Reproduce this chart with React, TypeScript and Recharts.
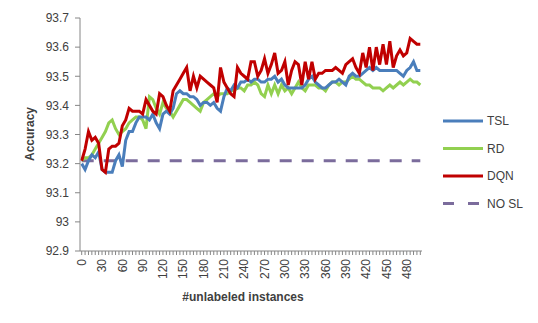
import * as React from 'react';
import { LineChart, Line, XAxis, YAxis } from 'recharts';

// #unlabeled instances, step 5
const instances: number[] = Array.from({ length: 101 }, (_, i) => i * 5);

const tslValues: number[] = [
  93.2, 93.18, 93.21, 93.23, 93.22, 93.24, 93.18, 93.17, 93.17, 93.17,
  93.21, 93.23, 93.19, 93.28, 93.31, 93.31, 93.34, 93.36, 93.36, 93.36,
  93.35, 93.37, 93.34, 93.32, 93.37, 93.38, 93.37, 93.39, 93.44, 93.45,
  93.44, 93.44, 93.43, 93.43, 93.42, 93.4, 93.41, 93.41, 93.4, 93.41,
  93.39, 93.38, 93.43, 93.46, 93.45, 93.47, 93.46, 93.48, 93.48, 93.49,
  93.48, 93.49, 93.49, 93.48, 93.48, 93.49, 93.49, 93.5, 93.48, 93.49,
  93.47, 93.46, 93.46, 93.46, 93.46, 93.46, 93.47, 93.49, 93.5, 93.48,
  93.47, 93.46, 93.46, 93.47, 93.48, 93.48, 93.49, 93.48, 93.47, 93.5,
  93.51, 93.5, 93.5, 93.51, 93.52, 93.53, 93.52, 93.53, 93.52, 93.52,
  93.52, 93.52, 93.52, 93.52, 93.51, 93.5, 93.52, 93.53, 93.55, 93.52,
  93.52,
];

const rdValues: number[] = [
  93.21, 93.22, 93.22, 93.23, 93.25, 93.27, 93.29, 93.31, 93.34, 93.35,
  93.32, 93.3, 93.31, 93.32, 93.34, 93.35, 93.36, 93.36, 93.35, 93.32,
  93.43, 93.42, 93.39, 93.37, 93.41, 93.39, 93.38, 93.36, 93.38, 93.4,
  93.42, 93.42, 93.41, 93.4, 93.39, 93.38, 93.41, 93.42, 93.43, 93.44,
  93.43, 93.44, 93.44, 93.44, 93.45, 93.45, 93.46, 93.46, 93.45, 93.47,
  93.47, 93.48, 93.47, 93.44, 93.43, 93.47, 93.44, 93.47, 93.44, 93.47,
  93.45, 93.46, 93.44, 93.46, 93.48, 93.46, 93.45, 93.47, 93.47, 93.47,
  93.46, 93.46, 93.45, 93.47, 93.48, 93.48, 93.47, 93.48, 93.48, 93.49,
  93.5, 93.49, 93.49, 93.48, 93.47, 93.47, 93.46, 93.46, 93.46, 93.45,
  93.46, 93.47, 93.46, 93.47, 93.48, 93.47, 93.48, 93.49, 93.48, 93.48,
  93.47,
];

const dqnValues: number[] = [
  93.21, 93.25, 93.31, 93.28, 93.29, 93.27, 93.18, 93.17, 93.25, 93.26,
  93.26, 93.27, 93.33, 93.35, 93.39, 93.38, 93.38, 93.38, 93.37, 93.42,
  93.4, 93.38, 93.37, 93.44, 93.43, 93.4, 93.38, 93.45, 93.47, 93.49,
  93.51, 93.53, 93.45, 93.5, 93.46, 93.5, 93.49, 93.48, 93.47, 93.46,
  93.41, 93.53, 93.48, 93.46, 93.44, 93.43, 93.53, 93.51, 93.5, 93.49,
  93.55, 93.55, 93.5, 93.52, 93.56, 93.51, 93.54, 93.58, 93.51, 93.52,
  93.55, 93.47, 93.52, 93.55, 93.54, 93.47, 93.55, 93.49, 93.55, 93.49,
  93.51, 93.51, 93.52, 93.52, 93.52, 93.53, 93.52, 93.51, 93.54, 93.55,
  93.56, 93.53, 93.51, 93.58, 93.53, 93.6, 93.52, 93.6, 93.54, 93.61,
  93.54, 93.62, 93.53, 93.57, 93.59, 93.57, 93.58, 93.63, 93.62, 93.61,
  93.61,
];

const noSlValue = 93.21;

const yTicks: number[] = [92.9, 93, 93.1, 93.2, 93.3, 93.4, 93.5, 93.6, 93.7];

const series = [
  { key: 'tsl', name: 'TSL', color: '#4a7ebb', dash: undefined as string | undefined },
  { key: 'rd', name: 'RD', color: '#92d050', dash: undefined as string | undefined },
  { key: 'dqn', name: 'DQN', color: '#c00000', dash: undefined as string | undefined },
  { key: 'nosl', name: 'NO SL', color: '#7b6c9c', dash: '12 10' },
];

const data = instances.map((x, i) => ({
  x,
  tsl: tslValues[i],
  rd: rdValues[i],
  dqn: dqnValues[i],
  nosl: noSlValue,
}));

const axisColor = '#868686';
const textColor = '#404040';
const fontFamily = '"Liberation Sans", Arial, sans-serif';

function XTick(props: any) {
  const { x, y, payload, index } = props;
  return (
    <g>
      <line x1={x} y1={y} x2={x} y2={y + 4} stroke={axisColor} />
      {index % 6 === 0 && (
        <text
          transform={`translate(${x},${y + 8}) rotate(-90)`}
          textAnchor="end"
          dy="0.35em"
          fill={textColor}
          fontSize={12}
          fontFamily={fontFamily}
        >
          {payload.value}
        </text>
      )}
    </g>
  );
}

export default function App() {
  return (
    <div style={{ position: 'absolute', left: 0, top: 0, width: 538, height: 323, background: '#fff' }}>
      <LineChart
        width={538}
        height={323}
        data={data}
        margin={{ top: 18, right: 116, left: 0, bottom: 30 }}
      >
        <XAxis
          dataKey="x"
          type="category"
          interval={0}
          height={42}
          tickLine={false}
          tickSize={0}
          tickMargin={0}
          padding={{ left: 1.7, right: 1.7 }}
          axisLine={{ stroke: axisColor }}
          tick={<XTick />}
        />
        <YAxis
          domain={[92.9, 93.7]}
          ticks={yTicks}
          interval={0}
          width={80}
          tickSize={5}
          tickMargin={6}
          tickFormatter={(v: number) => String(Math.round(v * 10) / 10)}
          axisLine={{ stroke: axisColor }}
          tickLine={{ stroke: axisColor }}
          tick={{ fill: textColor, fontSize: 12, fontFamily }}
          allowDataOverflow
        />
        <Line dataKey="nosl" name="NO SL" stroke="#7b6c9c" strokeWidth={3} strokeDasharray="12 10" dot={false} isAnimationActive={false} />
        <Line dataKey="rd" name="RD" stroke="#92d050" strokeWidth={3} dot={false} isAnimationActive={false} />
        <Line dataKey="tsl" name="TSL" stroke="#4a7ebb" strokeWidth={3} dot={false} isAnimationActive={false} />
        <Line dataKey="dqn" name="DQN" stroke="#c00000" strokeWidth={3} dot={false} isAnimationActive={false} />
      </LineChart>

      {/* axis titles and legend, placed where Excel put them */}
      <svg width={538} height={323} style={{ position: 'absolute', left: 0, top: 0, pointerEvents: 'none' }}>
        <text
          transform="translate(30,134) rotate(-90)"
          textAnchor="middle"
          dy="0.35em"
          fontSize={12}
          fontWeight="bold"
          fill={textColor}
          fontFamily={fontFamily}
        >
          Accuracy
        </text>
        <text
          x={243}
          y={297}
          textAnchor="middle"
          dy="0.35em"
          fontSize={12}
          fontWeight="bold"
          fill={textColor}
          fontFamily={fontFamily}
        >
          #unlabeled instances
        </text>
        {series.map((s, i) => {
          const y = 121 + i * 27.5;
          return (
            <g key={s.key}>
              <line
                x1={443}
                y1={y}
                x2={s.dash ? 480 : 483}
                y2={y}
                stroke={s.color}
                strokeWidth={3}
                strokeDasharray={s.dash ? '11 14' : undefined}
              />
              <text x={487} y={y} dy="0.35em" fontSize={12} fill={textColor} fontFamily={fontFamily}>
                {s.name}
              </text>
            </g>
          );
        })}
      </svg>
    </div>
  );
}
